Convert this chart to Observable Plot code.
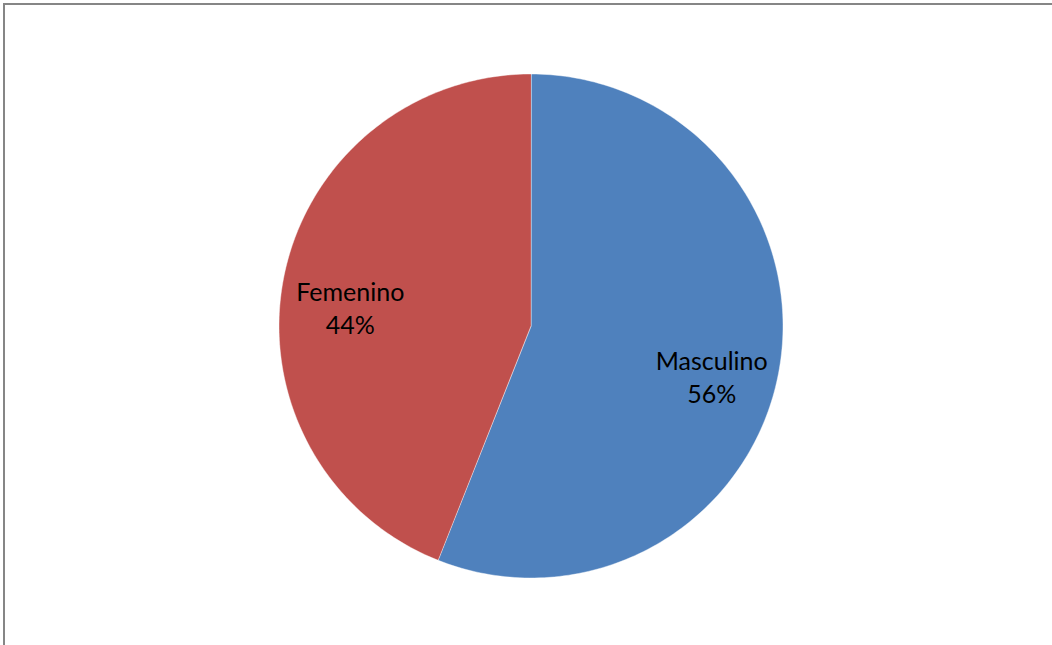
<!DOCTYPE html>
<html>
<head>
<meta charset="utf-8">
<script src="https://cdn.jsdelivr.net/npm/d3@7"></script>
<script src="https://cdn.jsdelivr.net/npm/@observablehq/plot@0.6"></script>
<style>
  html, body { margin: 0; padding: 0; background: #fff; overflow: hidden; width: 1052px; height: 645px; }
  #frame { position: absolute; left: 3px; top: 3px; width: 1200px; height: 800px;
           border-top: 2px solid #868686; border-left: 2px solid #868686; }
  #chart { position: absolute; left: 0; top: 0; }
</style>
</head>
<body>
<div id="frame"></div>
<div id="chart"></div>
<script>
const categories = ["Masculino", "Femenino"];
const shares = [56, 44];
const colors = ["#4F81BD", "#C0504D"];

const data = categories.map((c, i) => ({category: c, value: shares[i], color: colors[i]}));
const arcs = d3.pie().sort(null).value(d => d.value)(data);

// unit-circle coordinates, y pointing down (screen convention), angle 0 at 12 o'clock, clockwise
const steps = 180;
const features = arcs.map(a => {
  const ring = [[0, 0]];
  for (let k = 0; k <= steps; k++) {
    const t = a.startAngle + (a.endAngle - a.startAngle) * k / steps;
    ring.push([Math.sin(t), -Math.cos(t)]);
  }
  ring.push([0, 0]);
  return {type: "Feature", properties: {color: a.data.color}, geometry: {type: "Polygon", coordinates: [ring]}};
});

const labelRadius = 0.73;
const labels = arcs.map(a => {
  const m = (a.startAngle + a.endAngle) / 2;
  return {x: labelRadius * Math.sin(m), y: -labelRadius * Math.cos(m), text: `${a.data.category}\n${a.data.value}%`};
});

const chart = Plot.plot({
  width: 1052,
  height: 645,
  marginLeft: 278.5,
  marginRight: 269.5,
  marginTop: 73.5,
  marginBottom: 67.5,
  color: {type: "identity"},
  projection: {
    type: "identity",
    domain: {type: "Polygon", coordinates: [[[-1, -1], [1, -1], [1, 1], [-1, 1], [-1, -1]]]}
  },
  marks: [
    Plot.geo(features, {fill: d => d.properties.color, stroke: "#ffffff", strokeWidth: 0.6, strokeOpacity: 0.7}),
    Plot.text(labels, {x: "x", y: "y", text: "text", fontSize: 25, lineHeight: 1.32, fontFamily: "Lato", fill: "#000000", lineAnchor: "middle", dy: 15})
  ]
});
chart.style.background = "transparent";
document.getElementById("chart").appendChild(chart);
</script>
</body>
</html>
